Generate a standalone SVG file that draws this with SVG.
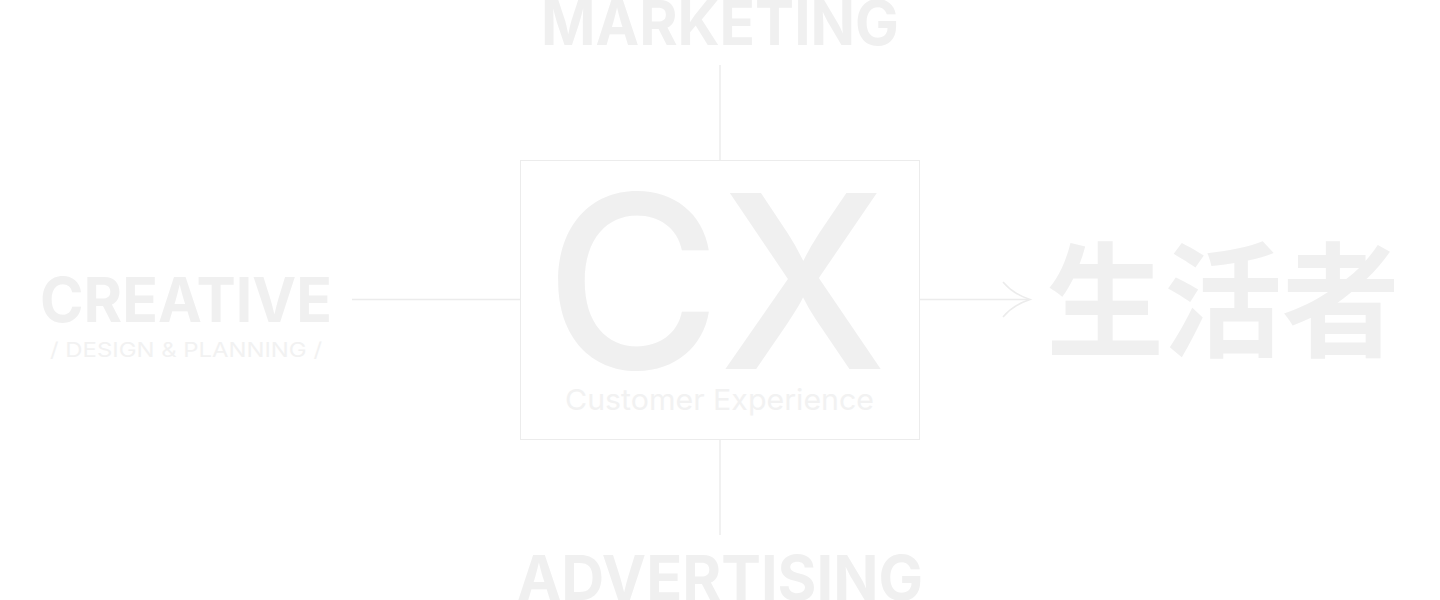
<svg xmlns="http://www.w3.org/2000/svg" width="1440" height="600" viewBox="0 0 1440 600">
<style>
.big{font-family:Inter,"Liberation Sans",sans-serif;font-weight:700;fill:#f0f0f0}
.sub{font-family:Inter,"Liberation Sans",sans-serif;font-weight:400;fill:#f2f2f2}
.ln{stroke:#ececec;stroke-width:1.5;fill:none}
</style>
<rect width="1440" height="600" fill="#ffffff"/>
<g id="connectors">
<line class="ln" x1="720" y1="65" x2="720" y2="160"/>
<line class="ln" x1="720" y1="440" x2="720" y2="535"/>
<line class="ln" x1="352" y1="299.5" x2="520" y2="299.5"/>
<line class="ln" x1="920" y1="299.5" x2="1029" y2="299.5"/>
<path class="ln" d="M1003,282 Q1013,294 1030,299.5 Q1013,305 1003,317"/>
</g>
<g id="marketing">
<text class="big" x="720" y="45" font-size="62" text-anchor="middle" textLength="358" lengthAdjust="spacingAndGlyphs">MARKETING</text>
</g>
<g id="advertising">
<text class="big" x="720" y="600" font-size="62" text-anchor="middle" textLength="406" lengthAdjust="spacingAndGlyphs">ADVERTISING</text>
</g>
<g id="creative">
<text class="big" x="40" y="322" font-size="62" textLength="292" lengthAdjust="spacingAndGlyphs">CREATIVE</text>
<text class="sub" x="50" y="357" font-size="20" font-weight="300" textLength="272" lengthAdjust="spacingAndGlyphs">/ DESIGN &amp; PLANNING /</text>
</g>
<g id="cx">
<rect x="520.5" y="160.5" width="399" height="279" fill="#ffffff" stroke="#ececec" stroke-width="1"/>
<text x="545" y="369" font-size="242" font-weight="500" fill="#f0f0f0" font-family="Inter,'Liberation Sans',sans-serif" textLength="342" lengthAdjust="spacingAndGlyphs">CX</text>
<text class="sub" x="565" y="410" font-size="29" textLength="309" lengthAdjust="spacingAndGlyphs">Customer Experience</text>
</g>
<g id="seikatsusha">
<text x="1046" y="347" font-size="124" font-weight="700" fill="#f0f0f0" font-family="'Noto Sans CJK JP',sans-serif" textLength="354" lengthAdjust="spacingAndGlyphs">生活者</text>
</g>
</svg>
